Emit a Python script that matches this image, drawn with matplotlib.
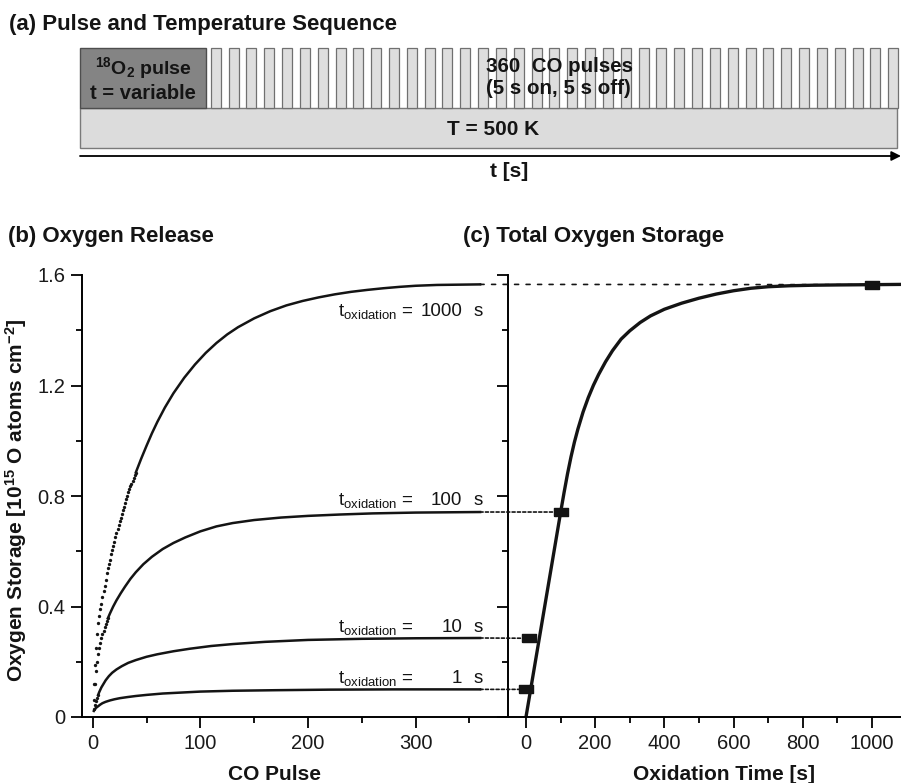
import matplotlib
matplotlib.use("Agg")
import matplotlib.pyplot as plt
from matplotlib.patches import Rectangle, ConnectionPatch
from matplotlib.ticker import FixedLocator, FuncFormatter

plt.rcParams['font.family'] = ['Liberation Sans', 'DejaVu Sans']
plt.rcParams['mathtext.fontset'] = 'custom'
plt.rcParams['mathtext.rm'] = 'Liberation Sans'
plt.rcParams['mathtext.it'] = 'Liberation Sans:italic'
plt.rcParams['mathtext.bf'] = 'Liberation Sans:bold'

# ---- data ----
# (b) oxygen release, cumulative storage vs CO pulse number
pulse_1000 = list(range(1, 41)) + [45, 50, 55, 60, 67, 75, 85, 95, 105, 115, 125, 135, 150,
                                   165, 180, 195, 210, 225, 240, 255, 270, 285, 300, 320,
                                   340, 360]
storage_1000 = [0.12, 0.19, 0.25, 0.30, 0.34, 0.365, 0.39, 0.41, 0.435, 0.455,
                0.475, 0.495, 0.52, 0.54, 0.555, 0.57, 0.59, 0.605, 0.62, 0.635,
                0.65, 0.665, 0.68, 0.695, 0.71, 0.72, 0.735, 0.75, 0.76, 0.775,
                0.79, 0.80, 0.815, 0.825, 0.835, 0.845, 0.855, 0.865, 0.875, 0.885,
                0.935, 0.982, 1.027, 1.068, 1.12, 1.172, 1.228, 1.276, 1.318, 1.354,
                1.385, 1.411, 1.443, 1.469, 1.49, 1.506, 1.519, 1.53, 1.539, 1.546,
                1.552, 1.557, 1.561, 1.564, 1.565, 1.566]

pulse_100 = list(range(1, 15)) + [16, 19, 22, 26, 30, 35, 40, 47, 55, 65, 75, 86, 100,
                                  115, 130, 150, 175, 200, 230, 260, 300, 360]
storage_100 = [0.06, 0.12, 0.165, 0.20, 0.228, 0.25, 0.268, 0.285, 0.30, 0.313,
               0.325, 0.337, 0.347, 0.357,
               0.375, 0.40, 0.422, 0.448, 0.472, 0.50, 0.524, 0.553, 0.58, 0.608,
               0.63, 0.65, 0.672, 0.69, 0.702, 0.713, 0.722, 0.728, 0.733, 0.737,
               0.74, 0.742]

pulse_10 = [1, 2, 3, 4, 5, 6, 8, 10, 12, 15, 18, 22, 27, 33, 40, 50, 60, 75, 90, 110,
            130, 160, 200, 250, 300, 360]
storage_10 = [0.03, 0.045, 0.058, 0.07, 0.08, 0.09, 0.107, 0.12, 0.133, 0.148, 0.16,
              0.172, 0.184, 0.196, 0.206, 0.218, 0.227, 0.238, 0.247, 0.257, 0.264,
              0.272, 0.279, 0.283, 0.285, 0.286]

pulse_1 = [1, 2, 3, 4, 5, 7, 9, 12, 16, 20, 25, 32, 40, 50, 65, 80, 100, 130, 170,
           220, 280, 360]
storage_1 = [0.022, 0.028, 0.033, 0.036, 0.039, 0.045, 0.05, 0.055, 0.06, 0.064, 0.068,
             0.072, 0.076, 0.08, 0.085, 0.088, 0.092, 0.095, 0.097, 0.099, 0.10, 0.10]

ox_labels = ['1000', '100', '10', '1']
curves = [(pulse_1000, storage_1000, 40), (pulse_100, storage_100, 14),
          (pulse_10, storage_10, 5), (pulse_1, storage_1, 0)]
label_offsets = [-0.113, 0.025, 0.023, 0.022]

# (c) total oxygen storage vs oxidation time
ox_time = [1, 10, 100, 1000]
ox_total = [0.10, 0.285, 0.742, 1.565]
fit_time = [0, 25, 50, 75, 100, 110, 120, 130, 140, 150, 165, 180, 195, 210, 230, 250,
            275, 300, 330, 360, 400, 450, 500, 550, 600, 650, 700, 760, 830, 900, 1000,
            1085]
fit_storage = [0, 0.185, 0.37, 0.555, 0.74, 0.812, 0.88, 0.941, 0.995, 1.042, 1.104,
               1.156, 1.201, 1.24, 1.286, 1.326, 1.368, 1.398, 1.428, 1.452, 1.476, 1.498,
               1.516, 1.531, 1.543, 1.552, 1.5575, 1.561, 1.563, 1.564, 1.565, 1.566]

n_co_pulses_drawn = 39

# ---- figure ----
W, H = 901, 783
fig = plt.figure(figsize=(W / 100, H / 100), dpi=100)


def fx(px):
    return px / W


def fy(py):
    return 1 - py / H


ink = '#141414'

# (a) schematic, drawn in pixel units
ax_a = fig.add_axes([0, 0, 1, 1])
ax_a.set_xlim(0, W)
ax_a.set_ylim(H, 0)
ax_a.axis('off')

seq_left, seq_right = 80, 897
top, mid, bottom = 48, 108, 148
o2_right = 206
first_pulse, pulse_w, pulse_period = 210.7, 10, 17.83

ax_a.add_patch(Rectangle((seq_left, mid), seq_right - seq_left, bottom - mid,
                         fc='#dcdcdc', ec='#7a7a7a', lw=1.0))
ax_a.add_patch(Rectangle((seq_left, top), o2_right - seq_left, mid - top,
                         fc='#848484', ec='#4e4e4e', lw=1.0))
for i in range(n_co_pulses_drawn):
    x0 = first_pulse + i * pulse_period
    ax_a.add_patch(Rectangle((x0, top), pulse_w, mid - top,
                             fc='#dedede', ec='#707070', lw=0.9))
ax_a.annotate('', xy=(901, 156), xytext=(seq_left, 156),
              arrowprops=dict(arrowstyle='-|>', color='black', lw=1.3,
                              mutation_scale=14, shrinkA=0, shrinkB=0))

bold = dict(fontweight='bold', color=ink)
ax_a.text(143, 74, r'$^{\mathbf{18}}$O$_{\mathbf{2}}$ pulse', ha='center', va='baseline',
          fontsize=14, **bold)
ax_a.text(143, 99, 't = variable', ha='center', va='baseline', fontsize=14.5, **bold)
ax_a.text(486, 71.5, '360  CO pulses', ha='left', va='baseline', fontsize=14.8, **bold)
ax_a.text(486, 94, '(5 s on, 5 s off)', ha='left', va='baseline', fontsize=14.8, **bold)
ax_a.text(493, 135, 'T = 500 K', ha='center', va='baseline', fontsize=15, **bold)
ax_a.text(509, 177, 't [s]', ha='center', va='baseline', fontsize=15, **bold)

ax_a.text(9, 30, '(a) Pulse and Temperature Sequence', ha='left', va='baseline',
          fontsize=16, **bold)
ax_a.text(8, 242, '(b) Oxygen Release', ha='left', va='baseline', fontsize=16, **bold)
ax_a.text(463, 242, '(c) Total Oxygen Storage', ha='left', va='baseline',
          fontsize=16, **bold)

# (b) and (c) axes
y_top, y_bot = 275, 717
ax_b = fig.add_axes([fx(82), fy(y_bot), (507 - 82) / W, (y_bot - y_top) / H])
ax_c = fig.add_axes([fx(508), fy(y_bot), (901 - 508) / W, (y_bot - y_top) / H])

for ax in (ax_b, ax_c):
    ax.set_facecolor('none')
    ax.set_ylim(0, 1.6)
    for s in ('top', 'right'):
        ax.spines[s].set_visible(False)
    for s in ('left', 'bottom'):
        ax.spines[s].set_linewidth(1.4)
    ax.yaxis.set_major_locator(FixedLocator([0, 0.4, 0.8, 1.2, 1.6]))
    ax.yaxis.set_minor_locator(FixedLocator([0.2, 0.6, 1.0, 1.4]))
    ax.tick_params(which='major', direction='out', length=8, width=1.3,
                   labelsize=14.5, labelcolor='#1a1a1a', pad=4)
    ax.tick_params(which='minor', direction='out', length=4, width=1.3)

ax_b.set_xlim(-10, 385)
ax_b.xaxis.set_major_locator(FixedLocator([0, 100, 200, 300]))
ax_b.xaxis.set_minor_locator(FixedLocator([50, 150, 250, 350]))
ax_b.yaxis.set_major_formatter(FuncFormatter(lambda v, p: '0' if v == 0 else f'{v:.1f}'))

ax_c.set_xlim(-52, 1084)
ax_c.xaxis.set_major_locator(FixedLocator([0, 200, 400, 600, 800, 1000]))
ax_c.xaxis.set_minor_locator(FixedLocator([100, 300, 500, 700, 900]))
ax_c.tick_params(axis='y', labelleft=False)

# curves in (b)
for (px, sy, n_dots), lab, off in zip(curves, ox_labels, label_offsets):
    if n_dots > 0:
        ax_b.plot(px[:n_dots], sy[:n_dots], ls='none', marker='o', ms=2.4,
                  mfc=ink, mec=ink, mew=0)
        ax_b.plot(px[n_dots - 1:], sy[n_dots - 1:], color=ink, lw=1.8)
    else:
        ax_b.plot(px, sy, color=ink, lw=1.8)
    yl = sy[-1] + off
    ax_b.text(228, yl, r'$\mathrm{t_{oxidation}}$ =', ha='left', va='baseline',
              fontsize=13.5, color=ink)
    ax_b.text(343.3, yl, lab, ha='right', va='baseline', fontsize=13.5, color=ink)
    ax_b.text(353.5, yl, 's', ha='left', va='baseline', fontsize=13.5, color=ink)

# (c) curve and points
ax_c.plot(fit_time, fit_storage, color=ink, lw=2.4, zorder=2)
sq = [(-1, -0.68), (1, -0.68), (1, 0.68), (-1, 0.68), (-1, -0.68)]
ax_c.plot(ox_time, ox_total, ls='none', marker=sq, ms=9.5, mfc=ink, mec=ink, zorder=3)

# dotted connectors from the end of each release curve to its total
for (px, sy, _), t, tot in zip(curves, ox_time[::-1], ox_total[::-1]):
    ls = (0, (2.4, 4.5)) if t == 1000 else (0, (1.8, 1.4))
    con = ConnectionPatch(xyA=(px[-1], sy[-1]), coordsA=ax_b.transData,
                          xyB=(t, tot), coordsB=ax_c.transData,
                          color=ink, lw=1.2, linestyle=ls, zorder=1)
    fig.add_artist(con)

# axis labels
fig.text(fx(274), fy(780), 'CO Pulse', ha='center', va='baseline', fontsize=15, **bold)
fig.text(fx(724), fy(780), 'Oxidation Time [s]', ha='center', va='baseline',
         fontsize=15, **bold)
fig.text(fx(16), fy(500), r'Oxygen Storage [10$^{\mathbf{15}}$ O atoms cm$^{\mathbf{-2}}$]',
         rotation=90, ha='center', va='center', fontsize=15, **bold)

fig.savefig('out.png', dpi=100)
